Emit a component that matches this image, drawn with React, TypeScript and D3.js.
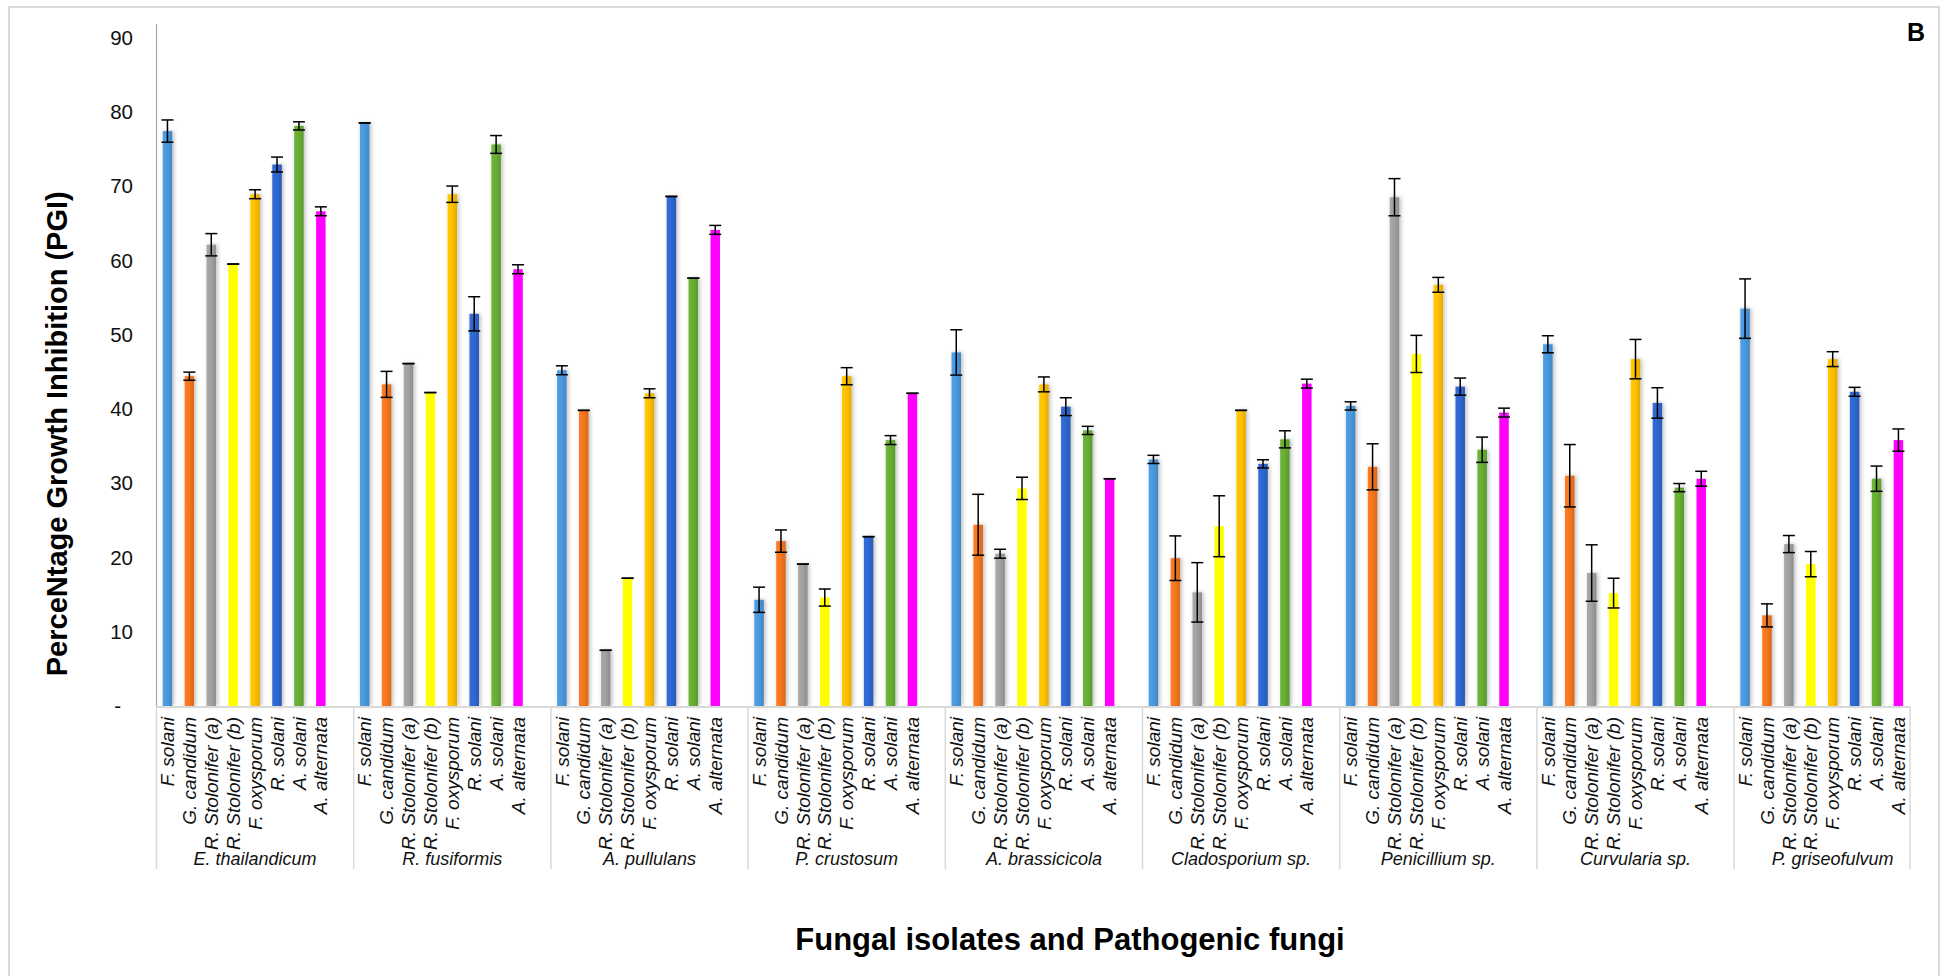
import React from "react";
import * as d3 from "d3";

const groups = [
  "E. thailandicum",
  "R. fusiformis",
  "A. pullulans",
  "P. crustosum",
  "A. brassicicola",
  "Cladosporium sp.",
  "Penicillium sp.",
  "Curvularia sp.",
  "P. griseofulvum",
];

const seriesNames = [
  "F. solani",
  "G. candidum",
  "R. Stolonifer (a)",
  "R. Stolonifer (b)",
  "F. oxysporum",
  "R. solani",
  "A. solani",
  "A. alternata",
];

const fSolani = [77.4, 78.5, 45.2, 14.3, 47.6, 33.2, 40.4, 48.7, 53.5];
const fSolaniErr = [1.5, 0, 0.6, 1.7, 3.05, 0.55, 0.55, 1.15, 4.0];
const gCandidum = [44.4, 43.3, 39.8, 22.2, 24.4, 19.9, 32.2, 31.0, 12.2];
const gCandidumErr = [0.55, 1.75, 0, 1.5, 4.1, 3.0, 3.1, 4.2, 1.55];
const rStoloniferA = [62.1, 46.1, 7.5, 19.1, 20.5, 15.3, 68.5, 17.9, 21.8];
const rStoloniferAErr = [1.5, 0, 0, 0, 0.6, 4.0, 2.5, 3.8, 1.15];
const rStoloniferB = [59.5, 42.2, 17.2, 14.6, 29.3, 24.2, 47.4, 15.2, 19.1];
const rStoloniferBErr = [0, 0, 0, 1.15, 1.5, 4.1, 2.5, 2.0, 1.7];
const fOxysporum = [68.9, 68.9, 42.1, 44.4, 43.3, 39.8, 56.7, 46.7, 46.7];
const fOxysporumErr = [0.6, 1.1, 0.6, 1.15, 1.0, 0, 1.0, 2.65, 1.0];
const rSolani = [72.9, 52.8, 68.6, 22.8, 40.3, 32.6, 43.0, 40.8, 42.3];
const rSolaniErr = [1.0, 2.3, 0, 0, 1.2, 0.55, 1.15, 2.05, 0.6];
const aSolani = [78.1, 75.6, 57.6, 35.8, 37.1, 35.9, 34.5, 29.4, 30.6];
const aSolaniErr = [0.55, 1.2, 0, 0.6, 0.55, 1.15, 1.7, 0.55, 1.7];
const aAlternata = [66.6, 58.8, 64.1, 42.1, 30.6, 43.4, 39.5, 30.6, 35.8];
const aAlternataErr = [0.6, 0.6, 0.6, 0, 0, 0.6, 0.6, 1.0, 1.5];

const yTicks = [0, 10, 20, 30, 40, 50, 60, 70, 80, 90];

const seriesValues = [fSolani, gCandidum, rStoloniferA, rStoloniferB, fOxysporum, rSolani, aSolani, aAlternata];
const seriesErrors = [fSolaniErr, gCandidumErr, rStoloniferAErr, rStoloniferBErr, fOxysporumErr, rSolaniErr, aSolaniErr, aAlternataErr];
const seriesColors = ["#4a98dc", "#f5761f", "#a0a0a0", "#ffff00", "#ffc000", "#2f66cf", "#67ad34", "#ff00ff"];
const seriesFlat = [false, false, false, true, false, false, false, true];

const W = 1946;
const H = 976;
const PLOT_LEFT = 156.5;
const GROUP_W = 197.2;
const AXIS_END = 1910;
const BASE_Y = 706;
const TOP_Y = 37.5;
const BAR_W = 9.5;
const FONT = "'Liberation Sans', Arial, Helvetica, sans-serif";

export default function App() {
  const x0 = d3
    .scaleBand<string>()
    .domain(groups)
    .range([PLOT_LEFT, PLOT_LEFT + GROUP_W * groups.length])
    .padding(0);
  const x1 = d3
    .scaleBand<string>()
    .domain([...seriesNames, "__gap"])
    .range([0, x0.bandwidth()])
    .padding(0);
  const y = d3.scaleLinear().domain([0, 90]).range([BASE_Y, TOP_Y]);

  const separators = groups.map((g) => x0(g) as number).slice(1);
  separators.push(Math.min(AXIS_END, (x0(groups[groups.length - 1]) as number) + x0.bandwidth()));

  const yFmt = (d: number) => (d === 0 ? "-" : d3.format("d")(d));

  return (
    <svg
      width={W}
      height={H}
      style={{ position: "absolute", left: 0, top: 0, display: "block", background: "#fff" }}
      fontFamily={FONT}
    >
      <defs>
        {seriesColors.map((c, i) => {
          const base = d3.color(c)!;
          return (
            <linearGradient id={`grad${i}`} key={i} x1="0" x2="1" y1="0" y2="0">
              <stop offset="0" stopColor={base.brighter(0.15).formatHex()} />
              <stop offset="0.5" stopColor={c} />
              <stop offset="1" stopColor={base.darker(0.35).formatHex()} />
            </linearGradient>
          );
        })}
        <filter id="shadow" x="-60%" y="-5%" width="220%" height="110%">
          <feDropShadow dx="1.5" dy="0" stdDeviation="2" floodColor="#000" floodOpacity="0.28" />
        </filter>
      </defs>

      {/* outer frame */}
      <rect x={9} y={7} width={1930} height={H + 20} fill="none" stroke="#d9d9d9" strokeWidth={2} />

      {/* y axis line */}
      <line x1={PLOT_LEFT} x2={PLOT_LEFT} y1={24} y2={BASE_Y} stroke="#a6a6a6" strokeWidth={1.2} />

      {/* y tick labels */}
      {yTicks.map((t) => (
        <text
          key={t}
          x={t === 0 ? 121 : 133}
          y={y(t)}
          dy="0.35em"
          textAnchor="end"
          fontSize={20.5}
          fill="#111"
        >
          {yFmt(t)}
        </text>
      ))}

      {/* bars */}
      {seriesNames.map((s, si) => (
        <g key={s}>
          {groups.map((g, gi) => {
            const cx = (x0(g) as number) + (x1(s) as number) + x1.bandwidth() / 2;
            const v = seriesValues[si][gi];
            return (
              <rect
                key={g}
                x={cx - BAR_W / 2}
                y={y(v)}
                width={BAR_W}
                height={y(0) - y(v)}
                fill={seriesFlat[si] ? seriesColors[si] : `url(#grad${si})`}
                filter={seriesFlat[si] ? undefined : "url(#shadow)"}
              />
            );
          })}
        </g>
      ))}

      {/* x axis baseline */}
      <line x1={PLOT_LEFT} x2={AXIS_END} y1={BASE_Y + 1} y2={BASE_Y + 1} stroke="#d9d9d9" strokeWidth={2} />

      {/* error bars */}
      {seriesNames.map((s, si) => (
        <g key={s} stroke="#000" strokeWidth={1.5}>
          {groups.map((g, gi) => {
            const cx = (x0(g) as number) + (x1(s) as number) + x1.bandwidth() / 2;
            const v = seriesValues[si][gi];
            const e = seriesErrors[si][gi];
            const yt = y(v + e);
            const yb = y(v - e);
            return (
              <g key={g}>
                <line x1={cx} x2={cx} y1={yt} y2={yb} />
                <line x1={cx - 6} x2={cx + 6} y1={yt} y2={yt} />
                <line x1={cx - 6} x2={cx + 6} y1={yb} y2={yb} />
              </g>
            );
          })}
        </g>
      ))}

      {/* group separators */}
      <line x1={PLOT_LEFT} x2={PLOT_LEFT} y1={BASE_Y} y2={869} stroke="#d9d9d9" strokeWidth={1.5} />
      {separators.map((sx, i) => (
        <line key={i} x1={sx} x2={sx} y1={BASE_Y} y2={869} stroke="#d9d9d9" strokeWidth={1.5} />
      ))}

      {/* x tick labels */}
      {groups.map((g) =>
        seriesNames.map((s) => {
          const cx = (x0(g) as number) + (x1(s) as number) + x1.bandwidth() / 2;
          return (
            <text
              key={g + s}
              transform={`translate(${cx},717) rotate(-90)`}
              textAnchor="end"
              dy="0.35em"
              fontSize={19}
              fontStyle="italic"
              fill="#111"
            >
              {s}
            </text>
          );
        })
      )}

      {/* group labels */}
      {groups.map((g) => (
        <text
          key={g}
          x={(x0(g) as number) + x0.bandwidth() / 2}
          y={865}
          textAnchor="middle"
          fontSize={18}
          fontStyle="italic"
          fill="#111"
        >
          {g}
        </text>
      ))}

      {/* axis titles */}
      <text
        transform={`translate(67,${(TOP_Y + BASE_Y) / 2 + 62}) rotate(-90)`}
        textAnchor="middle"
        fontSize={29}
        fontWeight="bold"
        fill="#000"
      >
        PerceNtage Growth Inhibition (PGI)
      </text>
      <text x={1070} y={950} textAnchor="middle" fontSize={31} fontWeight="bold" fill="#000">
        Fungal isolates and Pathogenic fungi
      </text>

      <text x={1907} y={41} fontSize={25} fontWeight="bold" fill="#000">
        B
      </text>
    </svg>
  );
}
